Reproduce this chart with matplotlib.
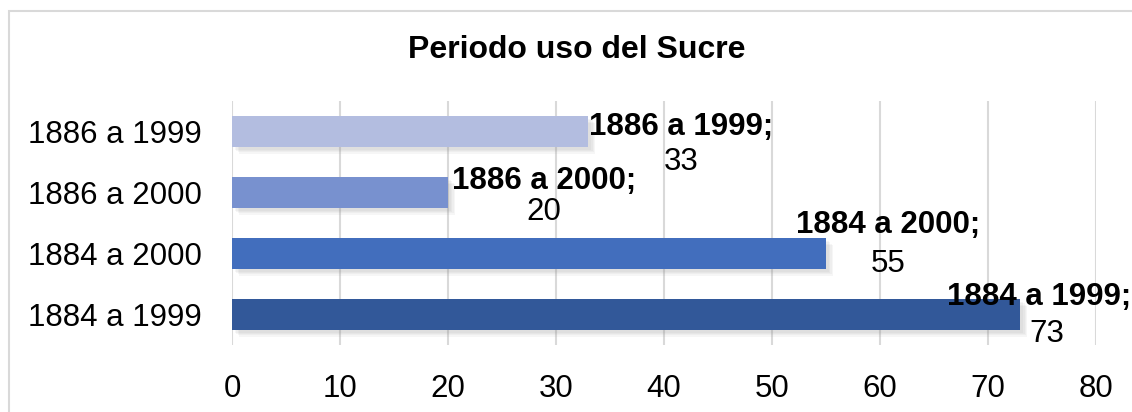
import matplotlib.pyplot as plt
import matplotlib.patheffects as pe
from matplotlib.patches import Rectangle

# data (top to bottom as in the chart)
periodos = ['1886 a 1999', '1886 a 2000', '1884 a 2000', '1884 a 1999']
anios = [33, 20, 55, 73]
colores = ['#B3BDE0', '#7891CF', '#426EBD', '#325899']

plt.rcParams['font.family'] = ['Liberation Sans', 'DejaVu Sans']

fig = plt.figure(figsize=(11.32, 4.12), dpi=100)
ax = fig.add_axes([232 / 1132, 1 - 345 / 412, (1096 - 232) / 1132, (345 - 101) / 412])

pos = list(range(len(periodos)))
bars = ax.barh(pos, anios, height=0.5, color=colores, zorder=3)
# soft shadow like the excel effect
sombra = [pe.SimplePatchShadow(offset=(o, -o), shadow_rgbFace='#888888', alpha=0.07)
          for o in (5, 4, 3, 2)]
for b in bars:
    b.set_path_effects(sombra + [pe.Normal()])

ax.set_xlim(0, 80)
ax.set_ylim(3.5, -0.5)
ax.set_xticks(range(0, 81, 10))
ax.set_yticks(pos)
ax.set_yticklabels(periodos)
ax.tick_params(axis='both', length=0, labelsize=22.5, colors='black')
ax.tick_params(axis='x', pad=21)
ax.tick_params(axis='y', pad=22)
ax.grid(axis='x', color='#D9D9D9', linewidth=1.5, zorder=0)
for s in ax.spines.values():
    s.set_visible(False)

# data labels (offsets in pixels, as placed in the original)
label_off = [(93, 5, 30), (96, 12, 20), (62, 28, 10), (19, 17, 19)]
value_dx = [93, 96, 62, 26]
for i, (p, v) in enumerate(zip(periodos, anios)):
    dx, up, down = label_off[i]
    ax.annotate(p + ';', (v, i), xytext=(dx, up), textcoords='offset pixels',
                ha='center', va='center', fontsize=22.5, fontweight='bold', zorder=5)
    ax.annotate(str(v), (v, i), xytext=(value_dx[i], -down), textcoords='offset pixels',
                ha='center', va='center', fontsize=22.5, zorder=5)

fig.text(577 / 1132, 1 - 50 / 412, 'Periodo uso del Sucre', ha='center', va='center',
         fontsize=23, fontweight='bold')

fig.patches.append(Rectangle((8.5 / 1132, -0.05), 1.1, 1 - 10.5 / 412 + 0.05,
                             transform=fig.transFigure, fill=False,
                             edgecolor='#D9D9D9', linewidth=1.5))

fig.savefig('out.png', dpi=100)
